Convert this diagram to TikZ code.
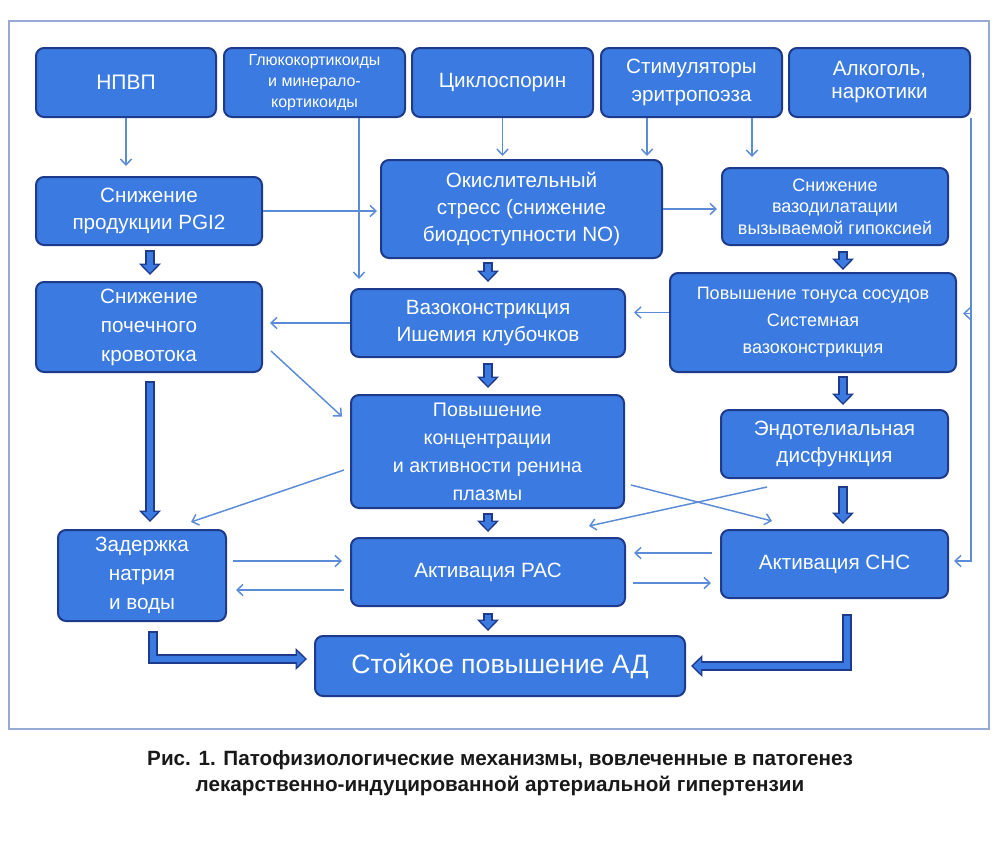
\documentclass[tikz,border=0pt]{standalone}
\usepackage{fontspec}
\setmainfont{Liberation Sans}
\newfontfamily\capfont{Liberation Sans}
\usetikzlibrary{arrows.meta,calc}
\definecolor{boxfill}{HTML}{3B7AE0}
\definecolor{boxedge}{HTML}{1E3A8A}
\definecolor{thinc}{HTML}{5B8CD8}
\definecolor{framec}{HTML}{97AAD6}
\newcommand\mkbox[7]{\node[box,#6,minimum width={(#4-#2)*0.75pt},minimum height={(#5-#3)*0.75pt}] (#1) at ({(#2+#4)/2},{(#3+#5)/2}) {#7};}
\begin{document}
\begin{tikzpicture}[x=0.75pt,y=-0.75pt,
  box/.style={draw=boxedge,fill=boxfill,line width=1.5pt,rounded corners=6pt,text=white,align=center,inner sep=0pt},
  fA/.style={font=\fontsize{15.5}{20.5}\selectfont},
  fB/.style={font=\fontsize{13.5}{16}\selectfont},
  fC/.style={font=\fontsize{12}{15.5}\selectfont},
  thinarr/.style={draw=thinc,line width=1.1pt,-{Straight Barb[length=4.5pt,width=8.5pt]}},
  blk/.style={draw=boxedge,line width=7pt,line join=miter,-{Triangle[width=16.5pt,length=8.5pt,line width=0pt]},
    postaction={draw=boxfill,line width=4.2pt,line join=miter,shorten <=1.2pt,shorten >=1.6pt,-{Triangle[width=11.5pt,length=6pt,line width=0pt]}}}
]
\useasboundingbox (0,0) rectangle (1000,840);
\fill[white] (0,0) rectangle (1000,840);
\draw[framec,line width=1.1pt] (9,21) rectangle (989,729);

% row 1
\mkbox{npvp}{36}{48}{216}{117}{font=\fontsize{15.75}{20}\selectfont}{НПВП}
\mkbox{gluco}{224}{48}{405}{117}{fC}{Глюкокортикоиды\\и минерало-\\кортикоиды}
\mkbox{cyclo}{412}{48}{593}{117}{fA}{Циклоспорин}
\mkbox{stim}{601}{48}{782}{117}{fA}{Стимуляторы\\эритропоэза}
\mkbox{alc}{789}{48}{970}{117}{font=\fontsize{15.5}{17.25}\selectfont}{Алкоголь,\\наркотики}
% row 2
\mkbox{pgi}{36}{177}{262}{245}{fA}{Снижение\\продукции PGI2}
\mkbox{oxi}{381}{160}{662}{258}{fA}{Окислительный\\стресс (снижение\\биодоступности NO)}
\mkbox{vdil}{722}{168}{948}{245}{fB}{Снижение\\вазодилатации\\вызываемой гипоксией}
% row 3
\mkbox{renal}{36}{282}{262}{372}{font=\fontsize{15.5}{21.75}\selectfont}{Снижение\\почечного\\кровотока}
\mkbox{vaso}{351}{289}{625}{357}{fA}{Вазоконстрикция\\Ишемия клубочков}
\mkbox{tone}{670}{273}{956}{372}{font=\fontsize{13.5}{20.25}\selectfont}{Повышение тонуса сосудов\\Системная\\вазоконстрикция}
% row 4
\mkbox{renin}{351}{395}{624}{508}{font=\fontsize{14.75}{21}\selectfont}{Повышение\\концентрации\\и активности ренина\\плазмы}
\mkbox{endo}{721}{410}{948}{478}{fA}{Эндотелиальная\\дисфункция}
% row 5
\mkbox{sodium}{58}{530}{226}{621}{font=\fontsize{15.5}{21.75}\selectfont}{Задержка\\натрия\\и воды}
\mkbox{ras}{351}{538}{625}{606}{fA}{Активация РАС}
\mkbox{sns}{721}{530}{948}{598}{fA}{Активация СНС}
% row 6
\mkbox{bp}{315}{636}{685}{696}{font=\fontsize{20}{24}\selectfont}{Стойкое повышение АД}

% thin connectors
\draw[thinarr] (npvp.south) -- ($(npvp.south |- pgi.north)+(0,-10)$);
\coordinate (gx) at ($(gluco.south)+(44.5,0)$);
\draw[thinarr] (gx) -- ($(gx |- vaso.north)+(0,-9)$);
\draw[thinarr] (cyclo.south) -- ($(cyclo.south |- oxi.north)+(0,-3)$);
\coordinate (s1) at ($(stim.south)+(-44.5,0)$);
\coordinate (s2) at ($(stim.south)+(60.5,0)$);
\draw[thinarr] (s1) -- ($(s1 |- oxi.north)+(0,-3)$);
\draw[thinarr] (s2) -- ($(s2 |- vdil.north)+(0,-10)$);
\draw[thinarr] (alc.south east) |- ($(sns.east)+(5,-3)$);
\draw[thinarr] ($(alc.south east |- tone.east)+(0,-9)$) -- ($(tone.east)+(6,-9)$);
\draw[thinarr] (pgi.east) -- ($(pgi.east -| oxi.west)+(-3,0)$);
\draw[thinarr] (oxi.east) -- ($(oxi.east -| vdil.west)+(-4,0)$);
\draw[thinarr] ($(tone.west)+(0,-10)$) -- ($(tone.west -| vaso.east)+(8,-10)$);
\draw[thinarr] (vaso.west) -- ($(vaso.west -| renal.east)+(7,0)$);
\draw[thinarr] ($(renal.south east)+(8,-22)$) -- ($(renin.west)+(-8,-35)$);
\draw[thinarr] ($(renin.west)+(-6,18.5)$) -- ($(sodium.north east)+(-36,-7)$);
\draw[thinarr] ($(renin.east)+(6,33.5)$) -- ($(sns.north)+(-62.5,-8)$);
\draw[thinarr] ($(endo.south)+(-67.5,8)$) -- ($(ras.north east)+(-37,-11)$);
\draw[thinarr] ($(sodium.east |- ras.west)+(6,-11)$) -- ($(ras.west)+(-8,-11)$);
\draw[thinarr] ($(ras.west)+(-6,18)$) -- ($(sodium.east |- ras.west)+(9,18)$);
\draw[thinarr] ($(sns.west)+(-8,-11)$) -- ($(sns.west -| ras.east)+(8,-11)$);
\draw[thinarr] ($(ras.east |- sns.west)+(7,19)$) -- ($(sns.west)+(-9,19)$);

% block arrows
\draw[blk] ($(pgi.south)+(1,4)$) -- ($(renal.north)+(1,-6)$);
\draw[blk] ($(oxi.south -| vaso.north)+(0,3)$) -- ($(vaso.north)+(0,-6)$);
\coordinate (vt) at ($(vdil.south)+(8,0)$);
\draw[blk] ($(vt)+(0,5)$) -- ($(vt |- tone.north)+(0,-2)$);
\draw[blk] ($(renal.south)+(1,8)$) -- ($(renal.south |- sodium.north)+(1,-7)$);
\draw[blk] ($(vaso.south)+(0,5)$) -- ($(renin.north -| vaso.south)+(0,-6)$);
\coordinate (te) at ($(endo.north)+(8.5,0)$);
\draw[blk] ($(te |- tone.south)+(0,3)$) -- ($(te)+(0,-4)$);
\draw[blk] ($(renin.south -| ras.north)+(0,4)$) -- ($(ras.north)+(0,-5)$);
\draw[blk] ($(te |- endo.south)+(0,7)$) -- ($(te |- sns.north)+(0,-5)$);
\draw[blk] ($(ras.south)+(0,6)$) -- ($(ras.south |- bp.north)+(0,-4)$);
\draw[blk] ($(sodium.south)+(11,9)$) |- ($(bp.west)+(-7,-7)$);
\draw[blk] ($(sns.south)+(12.5,15)$) |- ($(bp.east)+(5,0)$);

% caption
\node[font=\capfont\bfseries\fontsize{15.5}{19.5}\selectfont,align=center,text=black!90] (cap) at (500,773)
  {Рис. 1. Патофизиологические механизмы, вовлеченные в патогенез\\лекарственно-индуцированной артериальной гипертензии};
\end{tikzpicture}
\end{document}
